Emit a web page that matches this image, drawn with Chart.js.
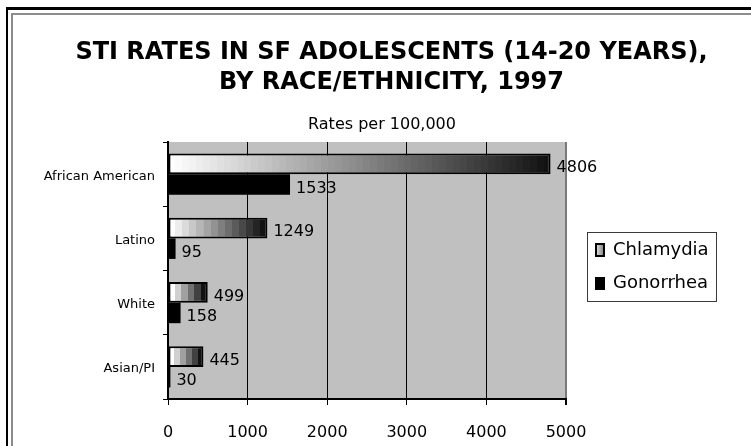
<!DOCTYPE html>
<html>
<head>
<meta charset="utf-8">
<script src="https://cdn.jsdelivr.net/npm/chart.js@4/dist/chart.umd.min.js"></script>
<style>
  html, body { margin: 0; padding: 0; background: #fff; }
  #wrap { width: 751px; height: 446px; }
</style>
</head>
<body>
<div id="wrap"><canvas id="c" width="751" height="446"></canvas></div>
<script>
// STI rates per 100,000 among SF adolescents (14-20 years), 1997
const groups = ['African American', 'Latino', 'White', 'Asian/PI'];
const chlamydia = [4806, 1249, 499, 445];
const gonorrhea = [1533, 95, 158, 30];
const seriesNames = ['Chlamydia', 'Gonorrhea'];
const rateTicks = [0, 1000, 2000, 3000, 4000, 5000];
const titleLines = ['STI RATES IN SF ADOLESCENTS (14-20 YEARS),', 'BY RACE/ETHNICITY, 1997'];
const unitsLabel = 'Rates per 100,000';

const FONT = "'DejaVu Sans', Verdana, sans-serif";
Chart.defaults.font.family = FONT;
Chart.defaults.color = '#000';

// Banded white-to-black fill running along each Chlamydia bar
function bandedFill(c) {
  const chart = c.chart;
  const xs = chart.scales && chart.scales.x;
  if (c.type !== 'data' || !xs || !chart.chartArea) return '#888';
  const x0 = xs.getPixelForValue(0);
  const x1 = xs.getPixelForValue(c.raw);
  const w = Math.max(1, x1 - x0);
  const n = Math.max(6, Math.round(w / 7));
  const g = chart.ctx.createLinearGradient(x0, 0, x1, 0);
  for (let i = 0; i < n; i++) {
    const v = Math.round(255 - (255 - 18) * i / (n - 1));
    const col = 'rgb(' + v + ',' + v + ',' + v + ')';
    g.addColorStop(i / n, col);
    g.addColorStop(Math.min(1, (i + 1) / n - 0.0001), col);
  }
  return g;
}

// Page background, double frame and grey plot area
const backdrop = {
  id: 'backdrop',
  beforeDraw(chart) {
    const { ctx, chartArea: a, width, height } = chart;
    ctx.save();
    ctx.fillStyle = '#fff';
    ctx.fillRect(0, 0, width, height);
    ctx.fillStyle = '#000';
    ctx.fillRect(6, 7, width, 3);
    ctx.fillRect(6, 7, 2, height);
    ctx.fillStyle = '#8c8c8c';
    ctx.fillRect(11, 13, width, 2);
    ctx.fillRect(11, 13, 2, height);
    ctx.fillStyle = '#c0c0c0';
    ctx.fillRect(a.left, a.top, a.right - a.left, a.bottom - a.top);
    ctx.restore();
  }
};

// Value printed just past the end of every bar
const valueLabels = {
  id: 'valueLabels',
  afterDatasetsDraw(chart) {
    const ctx = chart.ctx;
    ctx.save();
    ctx.font = '16px ' + FONT;
    ctx.fillStyle = '#000';
    ctx.textAlign = 'left';
    ctx.textBaseline = 'middle';
    chart.data.datasets.forEach((ds, di) => {
      chart.getDatasetMeta(di).data.forEach((bar, i) => {
        ctx.fillText(String(ds.data[i]), bar.x + 6, bar.y + 4);
      });
    });
    ctx.restore();
  }
};

// Units caption above the plot and the boxed key on the right
const captionAndKey = {
  id: 'captionAndKey',
  afterDraw(chart) {
    const { ctx, chartArea: a } = chart;
    ctx.save();
    ctx.fillStyle = '#000';
    ctx.font = '16px ' + FONT;
    ctx.textAlign = 'center';
    ctx.textBaseline = 'middle';
    ctx.fillText(unitsLabel, (a.left + a.right) / 2 + 15, 124.5);

    const bx = a.right + 21;
    const by = Math.round((a.top + a.bottom) / 2 - 38.5);
    ctx.fillStyle = '#fff';
    ctx.fillRect(bx, by, 129, 69);
    ctx.strokeStyle = '#3a3a3a';
    ctx.lineWidth = 1;
    ctx.strokeRect(bx + 0.5, by + 0.5, 129, 69);

    // Chlamydia key: framed grey swatch
    ctx.fillStyle = '#000';
    ctx.fillRect(bx + 8, by + 11, 10, 14);
    const sg = ctx.createLinearGradient(bx + 10, 0, bx + 16, 0);
    sg.addColorStop(0, '#d8d8d8');
    sg.addColorStop(1, '#8a8a8a');
    ctx.fillStyle = sg;
    ctx.fillRect(bx + 10, by + 13, 6, 10);
    // Gonorrhea key: solid black swatch
    ctx.fillStyle = '#000';
    ctx.fillRect(bx + 8, by + 45, 10, 13);

    ctx.font = '18px ' + FONT;
    ctx.textAlign = 'left';
    ctx.fillText(chart.data.datasets[0].label, bx + 26, by + 18);
    ctx.fillText(chart.data.datasets[1].label, bx + 26, by + 51.5);
    ctx.restore();
  }
};

new Chart(document.getElementById('c'), {
  type: 'bar',
  data: {
    labels: groups,
    datasets: [
      {
        label: seriesNames[0],
        data: chlamydia,
        backgroundColor: bandedFill,
        borderColor: '#000',
        borderWidth: 2,
        borderSkipped: false,
        xAxisID: 'x',
        yAxisID: 'y'
      },
      {
        label: seriesNames[1],
        data: gonorrhea,
        backgroundColor: '#000',
        borderWidth: 0,
        xAxisID: 'x',
        yAxisID: 'y'
      }
    ]
  },
  options: {
    indexAxis: 'y',
    responsive: false,
    animation: false,
    events: [],
    categoryPercentage: 0.64,
    barPercentage: 1.0,
    layout: { padding: { left: 32, right: 0, top: 0, bottom: 4 } },
    plugins: {
      legend: { display: false },
      tooltip: { enabled: false },
      title: {
        display: true,
        text: titleLines,
        color: '#000',
        font: { family: FONT, size: 24, weight: 'bold', lineHeight: 1.25 },
        padding: { top: 38, bottom: 44 }
      }
    },
    scales: {
      y: {
        type: 'category',
        position: 'left',
        offset: true,
        grid: { drawOnChartArea: false, offset: true, tickLength: 5, color: '#000', lineWidth: 1 },
        border: { color: '#000', width: 2 },
        ticks: { font: { size: 13 }, color: '#000', padding: 8, labelOffset: 2 },
        afterFit(s) { s.width = 136; }
      },
      x: {
        type: 'linear',
        position: 'bottom',
        min: rateTicks[0],
        max: rateTicks[rateTicks.length - 1],
        afterBuildTicks(s) { s.ticks = rateTicks.map(v => ({ value: v })); },
        afterFit(s) { s.height = 43; },
        grid: {
          color: c => (c.index === rateTicks.length - 1 ? '#7a7a7a' : '#000'),
          lineWidth: c => (c.index === rateTicks.length - 1 ? 2 : 1),
          tickColor: '#000',
          tickLength: 6
        },
        border: { color: '#000', width: 2 },
        ticks: { font: { size: 16 }, color: '#000', padding: 18, callback: v => String(v) }
      },
      legendSpace: {
        type: 'linear',
        position: 'right',
        display: true,
        grid: { display: false, drawTicks: false },
        border: { display: false },
        ticks: { display: false },
        afterFit(s) { s.width = 185; }
      }
    }
  },
  plugins: [backdrop, valueLabels, captionAndKey]
});
</script>
</body>
</html>
